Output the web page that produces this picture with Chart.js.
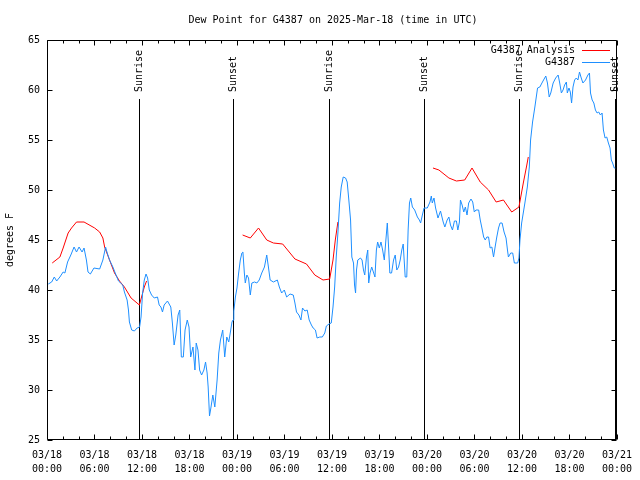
<!DOCTYPE html>
<html>
<head>
<meta charset="utf-8">
<script src="https://cdn.jsdelivr.net/npm/chart.js@4.4.1/dist/chart.umd.min.js"></script>
<style>
  html, body { margin: 0; padding: 0; background: #fff; }
  canvas { display: block; }
</style>
</head>
<body>
<canvas id="c" width="640" height="480"></canvas>
<script>
// ---- data (hours since 2025-03-18 00:00 UTC) ----
const obsHours = [0.16,0.59,0.92,1.22,1.63,2.04,2.26,2.60,3.01,3.42,
  3.73,4.05,4.43,4.68,4.98,5.18,5.48,5.93,6.65,7.06,
  7.40,7.61,7.90,8.32,8.62,9.03,9.57,9.78,10.12,10.29,
  10.41,10.70,11.04,11.38,11.70,11.88,12.08,12.29,12.51,12.71,
  12.92,13.21,13.55,13.96,14.17,14.39,14.59,14.80,15.22,15.64,
  15.84,16.06,16.27,16.56,16.77,16.97,17.22,17.44,17.72,17.94,
  18.15,18.44,18.69,18.85,19.07,19.28,19.53,19.82,20.03,20.23,
  20.36,20.53,20.70,20.95,21.20,21.49,21.70,21.91,22.20,22.45,
  22.71,22.96,23.21,23.37,23.50,23.60,23.80,24.00,24.21,24.42,
  24.62,24.75,24.93,25.05,25.25,25.46,25.68,25.88,26.22,26.51,
  26.81,27.13,27.47,27.76,27.97,28.19,28.60,29.10,29.35,29.64,
  29.98,30.27,30.70,31.11,31.32,31.52,31.82,32.08,32.28,32.58,
  32.87,33.12,33.40,33.62,33.91,34.12,34.46,34.78,35.09,35.29,
  35.63,35.91,36.13,36.34,36.54,36.75,36.97,37.17,37.42,37.72,
  37.92,38.13,38.35,38.51,38.72,38.85,38.98,39.10,39.26,39.60,
  39.80,39.98,40.14,40.36,40.52,40.64,40.81,41.02,41.27,41.43,
  41.61,41.77,41.98,42.19,42.40,42.61,42.81,42.99,43.15,43.31,
  43.53,43.78,43.99,44.19,44.41,44.62,44.82,45.00,45.12,45.25,
  45.45,45.62,45.79,45.95,46.16,46.45,46.79,47.04,47.20,47.42,
  47.63,48.04,48.38,48.55,48.67,48.89,49.09,49.39,49.71,50.05,
  50.26,50.55,50.77,50.97,51.22,51.47,51.72,51.90,52.10,52.23,
  52.44,52.65,52.85,53.06,53.27,53.56,53.78,53.98,54.19,54.53,
  54.73,54.94,55.16,55.36,55.57,55.78,55.98,56.20,56.41,56.61,
  56.82,57.04,57.24,57.49,57.74,57.99,58.17,58.29,58.58,58.83,
  59.04,59.46,59.62,59.75,59.96,60.37,60.68,60.93,61.09,61.34,
  61.63,61.97,62.26,62.59,63.01,63.22,63.44,63.64,63.94,64.26,
  64.57,64.77,64.98,65.19,65.39,65.61,65.73,65.94,66.11,66.27,
  66.45,66.65,66.86,67.07,67.27,67.49,67.70,68.03,68.33,68.53,
  68.66,68.87,69.08,69.28,69.49,69.70,69.91,70.12,70.29,70.50,
  70.71,70.92,71.13,71.29,71.45,71.66,71.79];
const obsValues = [40.6,40.8,41.3,40.9,41.3,41.8,41.7,42.8,43.5,44.3,
  43.8,44.3,43.8,44.2,43.0,41.8,41.6,42.2,42.1,43.0,
  44.3,43.7,43.0,42.3,41.7,40.9,40.5,39.8,39.0,38.0,
  36.8,36.0,35.9,36.2,36.3,37.3,39.7,41.0,41.6,41.2,
  40.0,39.5,39.2,39.3,38.5,38.3,37.8,38.5,38.9,38.3,
  36.7,34.5,35.5,37.5,38.0,33.3,33.3,36.0,37.0,36.3,
  33.3,34.3,32.0,34.7,34.0,32.0,31.5,32.0,32.8,31.7,
  30.3,27.4,28.2,29.5,28.3,31.0,33.7,35.0,36.0,33.3,
  35.3,34.8,36.0,36.8,37.0,37.9,39.3,40.2,41.7,43.0,
  43.7,43.8,41.7,40.7,41.5,41.2,39.5,40.7,40.8,40.7,
  41.0,41.7,42.3,43.5,42.3,41.0,40.8,41.0,40.3,39.7,
  40.0,39.3,39.6,39.5,38.7,37.8,37.5,37.0,38.2,37.9,
  38.0,37.0,36.5,36.2,36.0,35.2,35.3,35.3,35.7,36.4,
  36.6,36.7,38.3,40.3,43.3,45.7,48.7,50.3,51.3,51.2,
  50.8,49.0,47.0,43.3,42.7,40.5,39.7,42.0,43.0,43.2,
  43.0,42.0,41.5,43.3,44.0,40.7,41.7,42.3,41.7,41.3,
  44.0,44.8,44.2,44.8,44.0,43.0,45.0,46.7,44.3,41.7,
  41.7,43.0,43.5,42.0,42.3,43.0,44.0,44.6,43.0,41.3,
  41.3,46.0,48.7,49.2,48.3,48.0,47.3,47.0,46.7,47.5,
  48.2,48.2,48.8,49.4,48.7,49.2,48.2,47.2,47.9,46.8,
  46.3,47.0,47.3,46.5,46.0,46.9,46.9,46.0,46.8,49.0,
  48.5,47.8,48.3,47.5,48.7,49.1,48.8,47.8,48.0,48.0,
  47.0,46.2,45.3,45.0,45.3,45.3,44.2,44.3,43.3,44.3,
  45.3,46.2,46.7,46.7,45.8,45.2,44.0,43.3,43.7,43.7,
  42.7,42.7,43.2,45.0,46.7,48.7,50.3,52.3,55.0,56.8,
  58.3,60.2,60.3,60.8,61.4,60.7,59.3,59.7,60.7,61.2,
  61.5,60.7,59.7,60.0,60.5,60.8,59.7,60.2,59.8,58.7,
  60.3,61.0,61.2,61.0,61.8,61.2,60.7,61.0,61.5,61.7,
  59.7,59.0,58.7,58.0,57.7,57.8,57.5,57.7,56.0,55.2,
  55.3,54.7,54.2,53.0,52.7,52.2,52.2];

const analysisHours = [0.66,1.63,2.04,2.67,3.10,3.73,4.68,6.02,6.65,7.06,
  7.28,7.90,8.53,9.16,9.78,10.62,11.67,12.29,12.58,
  18.00,
  24.71,25.68,26.72,27.76,28.60,29.77,30.70,31.32,32.78,33.83,
  34.87,35.71,36.13,36.42,36.75,
  42.00,
  48.76,49.51,50.77,51.72,52.77,53.69,54.73,55.78,56.74,57.66,
  58.71,59.62,60.17,60.59,60.80];
const analysisValues = [42.7,43.3,44.2,45.7,46.2,46.8,46.8,46.2,45.8,45.2,
  44.3,43.0,41.7,40.9,40.3,39.2,38.5,40.3,40.9,
  null,
  45.5,45.2,46.2,45.0,44.7,44.6,43.7,43.1,42.6,41.5,
  41.0,41.1,43.0,45.0,46.8,
  null,
  52.2,52.0,51.2,50.9,51.0,52.2,50.8,50.0,48.8,49.0,
  47.8,48.3,50.7,52.4,53.3];

const sunHours  = [11.58, 23.55, 35.58, 47.65, 59.62, 71.72];
const sunLabels = ['Sunrise','Sunset','Sunrise','Sunset','Sunrise','Sunset'];

const tickDates = ['03/18','03/18','03/18','03/18','03/19','03/19','03/19','03/19','03/20','03/20','03/20','03/20','03/21'];
const tickTimes = ['00:00','06:00','12:00','18:00','00:00','06:00','12:00','18:00','00:00','06:00','12:00','18:00','00:00'];

const titleText = 'Dew Point for G4387 on 2025-Mar-18 (time in UTC)';
const yTitle = 'degrees F';
const seriesNames = ['G4387 Analysis', 'G4387'];
const seriesColors = ['#ff0000', '#1e8fff'];

// ---- chart ----
const FONT = '"DejaVu Sans Mono", "Liberation Mono", monospace';

const obsPts = obsHours.map((h, i) => ({x: h, y: obsValues[i]}));
const anaPts = analysisHours.map((h, i) => ({x: h, y: analysisValues[i]}));

const decor = {
  id: 'decor',
  beforeDatasetsDraw(chart) {
    const {ctx, chartArea: a, scales: {x}} = chart;
    ctx.save();
    ctx.strokeStyle = '#000';
    ctx.fillStyle = '#000';
    ctx.lineWidth = 1;
    ctx.font = '10px ' + FONT;
    sunHours.forEach((h, i) => {
      const px = Math.round(x.getPixelForValue(h)) + 0.5;
      ctx.beginPath();
      ctx.moveTo(px, a.top + 59);
      ctx.lineTo(px, a.bottom);
      ctx.stroke();
      ctx.save();
      ctx.translate(px, a.top + 52);
      ctx.rotate(-Math.PI / 2);
      ctx.textAlign = 'left';
      ctx.textBaseline = 'middle';
      ctx.fillText(sunLabels[i], 0, 0);
      ctx.restore();
    });
    ctx.restore();
  },
  afterDraw(chart) {
    const {ctx, chartArea: a, scales: {x, y}} = chart;
    ctx.save();
    ctx.strokeStyle = '#000';
    ctx.fillStyle = '#000';
    ctx.lineWidth = 1;
    const L = Math.round(a.left) + 0.5, R = Math.round(a.right) - 0.5;
    const T = Math.round(a.top) + 0.5, B = Math.round(a.bottom) - 0.5;
    ctx.beginPath();
    ctx.rect(L, T, R - L, B - T);
    ctx.stroke();
    ctx.beginPath();
    for (let h = 0; h <= 72; h += 2) {
      const px = Math.round(x.getPixelForValue(h)) + 0.5;
      const len = (h % 6 === 0) ? 5 : 3;
      ctx.moveTo(px, B); ctx.lineTo(px, B - len);
      ctx.moveTo(px, T); ctx.lineTo(px, T + len);
    }
    for (let v = 25; v <= 65; v += 5) {
      const py = Math.round(y.getPixelForValue(v)) + 0.5;
      ctx.moveTo(L, py); ctx.lineTo(L + 5, py);
      ctx.moveTo(R, py); ctx.lineTo(R - 5, py);
    }
    ctx.stroke();

    ctx.font = '10px ' + FONT;
    ctx.textAlign = 'center';
    ctx.textBaseline = 'middle';
    ctx.fillText(titleText, 333, 20);
    ctx.save();
    ctx.translate(10, 240);
    ctx.rotate(-Math.PI / 2);
    ctx.fillText(yTitle, 0, 0);
    ctx.restore();
    ctx.textAlign = 'right';
    const ly = [a.top + 10, a.top + 22];
    seriesNames.forEach((n, i) => {
      ctx.fillStyle = '#000';
      ctx.fillText(n, 575, ly[i]);
      ctx.strokeStyle = seriesColors[i];
      ctx.beginPath();
      ctx.moveTo(582, ly[i] + 0.5);
      ctx.lineTo(610, ly[i] + 0.5);
      ctx.stroke();
    });
    ctx.restore();
  }
};

new Chart(document.getElementById('c'), {
  type: 'line',
  data: {
    datasets: [
      { label: seriesNames[0], data: anaPts, borderColor: seriesColors[0], borderWidth: 1,
        pointRadius: 0, tension: 0, spanGaps: false, fill: false, order: 2 },
      { label: seriesNames[1], data: obsPts, borderColor: seriesColors[1], borderWidth: 1,
        pointRadius: 0, tension: 0, spanGaps: false, fill: false, order: 1 }
    ]
  },
  options: {
    responsive: false,
    animation: false,
    layout: { padding: { left: 0, right: 19, top: 40, bottom: 0 } },
    plugins: { legend: { display: false }, title: { display: false }, tooltip: { enabled: false } },
    scales: {
      x: {
        type: 'linear', min: 0, max: 72,
        afterFit(s) { s.height = 40; },
        grid: { display: false, drawTicks: false },
        border: { display: false },
        ticks: {
          stepSize: 6, autoSkip: false, maxRotation: 0, padding: 8,
          color: '#000', font: { family: FONT, size: 10, lineHeight: 1.4 },
          callback: (v, i) => [tickDates[i], tickTimes[i]]
        }
      },
      y: {
        min: 25, max: 65,
        afterFit(s) { s.width = 47; },
        grid: { display: false, drawTicks: false },
        border: { display: false },
        ticks: {
          stepSize: 5, padding: 7, color: '#000',
          font: { family: FONT, size: 10 }
        }
      }
    }
  },
  plugins: [decor]
});
</script>
</body>
</html>
